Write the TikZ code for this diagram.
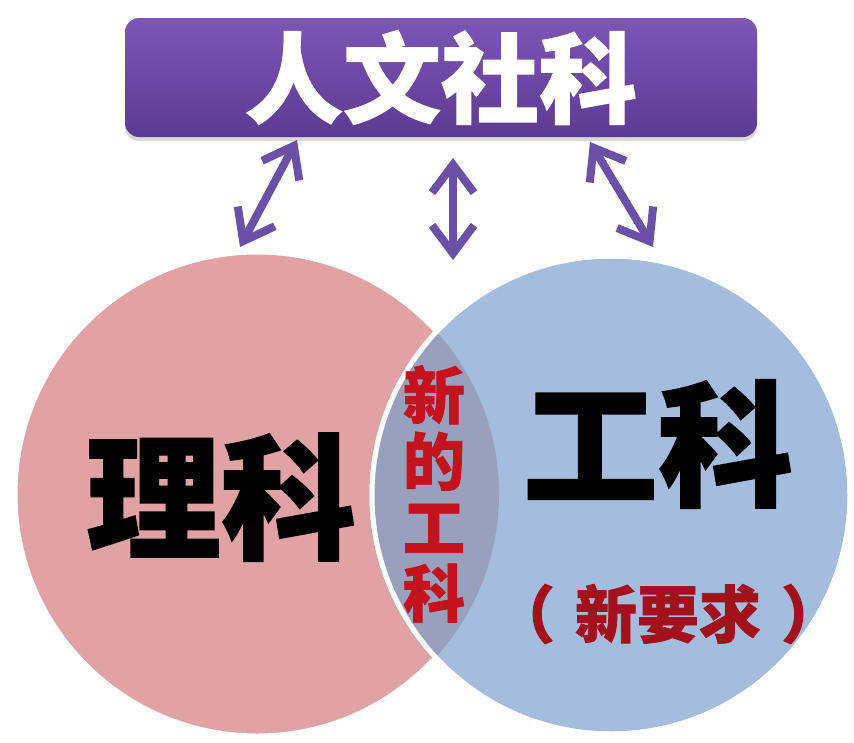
\documentclass[tikz,border=0pt]{standalone}
\usepackage{fontspec}
\newfontfamily\cjk{Noto Sans CJK SC}[BoldFeatures={FakeBold=1.2}]
\usetikzlibrary{arrows.meta,shadows}
\definecolor{LiPink}{HTML}{E0A2A4}
\definecolor{GongBlue}{HTML}{A4BCDD}
\definecolor{LensBlue}{HTML}{98A0BE}
\definecolor{HumTop}{HTML}{7C56B6}
\definecolor{HumBottom}{HTML}{5D3A93}
\definecolor{ArrowPurple}{HTML}{6A50A6}
\definecolor{NewRed}{HTML}{C4121E}
\definecolor{ReqRed}{HTML}{A3121C}

\begin{document}
\begin{tikzpicture}[x=1pt, y=-1pt,
        block/.style={rectangle, rounded corners=14pt, minimum width=632pt, minimum height=119pt, top color=HumTop, bottom color=HumBottom, drop shadow={opacity=0.3, shadow yshift=-4pt, shadow xshift=0pt}, text=white, font=\cjk\bfseries\fontsize{98}{100}\selectfont},
        disc/.style={circle, inner sep=0pt, draw=white, line width=5pt},
        subject/.style={font=\cjk\bfseries\fontsize{135}{140}\selectfont},
        arrow/.style={{Straight Barb[length=28pt,width=42pt]}-{Straight Barb[length=28pt,width=42pt]}, line width=8pt, draw=ArrowPurple}]

        \useasboundingbox (0,0) rectangle (854,742);
        \fill[white] (0,0) rectangle (854,742);

        % two subject circles
        \node[disc, fill=LiPink, minimum size=484pt] (li) at (257,494) {};
        \node[disc, fill=GongBlue, minimum size=478pt] (gong) at (611,495) {};
        \begin{scope}
            \clip (li.center) circle[radius=242pt];
            \fill[LensBlue] (gong.center) circle[radius=239pt];
        \end{scope}
        \draw[white, line width=5pt] (gong.center) circle[radius=239pt];

        \node[block] (hum) at (441,77.5) {人文社科};

        \node[subject] (lik) at (221,497) {理科};
        \node[subject] (gongk) at (658,444) {工科};
        \node[font=\cjk\bfseries\fontsize{62}{64}\selectfont, text=ReqRed] (req) at (668,614) {（\hspace{20pt}新要求\hspace{20pt}）};
        \node[font=\cjk\bfseries\fontsize{62}{66}\selectfont, text=NewRed, align=center] (newgk) at (434,494) {新\\的\\工\\科};

        % double arrows
        \coordinate (l1) at (297,140);
        \coordinate (l2) at (240,247);
        \coordinate (m1) at (453,158);
        \coordinate (m2) at (453,260);
        \coordinate (r1) at (590,142);
        \coordinate (r2) at (653,247);
        \draw[arrow] (l1) -- (l2);
        \draw[arrow] (m1) -- (m2);
        \draw[arrow] (r1) -- (r2);
    \end{tikzpicture}
\end{document}
